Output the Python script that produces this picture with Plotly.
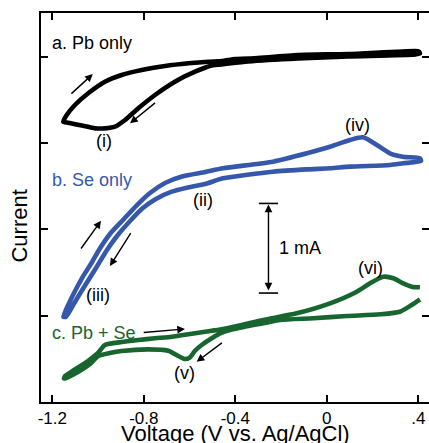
import plotly.graph_objects as go

# ---------------- data (Voltage in V vs Ag/AgCl, Current in arbitrary offset units, 1 mA ~ 1.04 units)
pb_v = [-1.152, -1.137, -1.101, -1.043, -0.970, -0.897, -0.809, -0.707, -0.605, -0.518, -0.458,
        -0.401, -0.344, -0.126, 0.093, 0.386, 0.403,
        0.407, 0.386, 0.093, -0.126, -0.344, -0.445, -0.503, -0.576, -0.664, -0.751, -0.824,
        -0.882, -0.926, -0.970, -1.013, -1.071, -1.130, -1.152]
pb_i = [3.247, 3.324, 3.440, 3.576, 3.710, 3.788, 3.846, 3.892, 3.923, 3.942, 3.950,
        3.973, 3.977, 4.019, 4.031, 4.066, 4.060,
        4.037, 4.025, 4.002, 3.979, 3.944, 3.915, 3.898, 3.826, 3.710, 3.556, 3.402,
        3.267, 3.189, 3.170, 3.170, 3.203, 3.235, 3.247]

se_v = [-1.152, -1.114, -1.070, -1.026, -0.996, -0.948, -0.891, -0.834, -0.773, -0.707, -0.633,
        -0.532, -0.454, -0.235, -0.087, 0.014, 0.101, 0.158, 0.219, 0.276, 0.333, 0.407, 0.412,
        0.333, 0.276, 0.101, 0.014, -0.087, -0.235, -0.454, -0.532, -0.607, -0.681, -0.747,
        -0.804, -0.856, -0.917, -0.961, -1.009, -1.053, -1.096, -1.140, -1.152]
se_i = [0.988, 1.216, 1.436, 1.622, 1.761, 1.946, 2.108, 2.270, 2.421, 2.537, 2.612,
        2.664, 2.707, 2.784, 2.881, 2.957, 3.035, 3.066, 2.977, 2.881, 2.841, 2.823, 2.792,
        2.765, 2.745, 2.726, 2.707, 2.695, 2.668, 2.591, 2.525, 2.485, 2.433, 2.351,
        2.247, 2.108, 1.923, 1.761, 1.552, 1.367, 1.182, 0.988, 0.988]

pbse_v = [0.407, 0.371, 0.320, 0.233, 0.087, -0.059, -0.205, -0.278, -0.423, -0.459, -0.503,
          -0.547, -0.576, -0.598, -0.620, -0.649, -0.693, -0.780, -0.897, -0.948, -0.999,
          -1.035, -1.088, -1.140, -1.149,
          -1.144, -1.101, -1.044, -1.000, -0.970, -0.897, -0.824, -0.751, -0.678, -0.605,
          -0.532, -0.459, -0.372, -0.278, -0.132, 0.014, 0.131, 0.189, 0.247, 0.291, 0.334,
          0.371, 0.407]
pbse_i = [1.190, 1.124, 1.046, 1.016, 0.996, 0.970, 0.950, 0.912, 0.834, 0.803, 0.738,
          0.660, 0.594, 0.518, 0.498, 0.533, 0.594, 0.610, 0.591, 0.568, 0.533,
          0.440, 0.348, 0.278, 0.272,
          0.301, 0.376, 0.475, 0.568, 0.660, 0.695, 0.718, 0.738, 0.756, 0.784,
          0.814, 0.842, 0.892, 0.950, 1.027, 1.143, 1.278, 1.375, 1.451, 1.433, 1.375,
          1.336, 1.329]

x_ticks = [-1.2, -0.8, -0.4, 0.0, 0.4]
x_tick_labels = ["-1.2", "-0.8", "-0.4", "0", ".4"]
y_ticks = [1, 2, 3, 4]
x_title = "Voltage (V vs. Ag/AgCl)"
y_title = "Current"

# scan-direction arrows: (tail V, tail I, head V, head I)
arrows_v_tail = [-1.123, -0.744, -1.079, -0.853, -0.807, -0.452]
arrows_i_tail = [3.556, 3.479, 1.761, 1.973, 0.803, 0.698]
arrows_v_head = [-1.023, -0.860, -0.987, -0.948, -0.620, -0.569]
arrows_i_head = [3.799, 3.228, 2.100, 1.575, 0.846, 0.467]

# peak labels
peak_labels = ["(i)", "(ii)", "(iii)", "(iv)", "(v)", "(vi)"]
peak_v = [-0.974, -0.541, -1.000, 0.136, -0.620, 0.189]
peak_i = [3.023, 2.340, 1.239, 3.209, 0.336, 1.552]

# series labels
series_names = ["a. Pb only", "b. Se only", "c. Pb + Se"]
series_label_i = [4.158, 2.572, 0.799]
series_colors = ["#000000", "#3658ab", "#17652f"]

# 1 mA scale bar
bar_v = -0.255
bar_i = [1.262, 2.300]
bar_cap_half = 0.042

FONT = "Liberation Sans, Arial, sans-serif"

fig = go.Figure()
for v, i, c in zip([pb_v, se_v, pbse_v], [pb_i, se_i, pbse_i], series_colors):
    fig.add_trace(go.Scatter(x=v, y=i, mode="lines",
                             line=dict(color=c, width=4.6, shape="spline", smoothing=0.6),
                             hoverinfo="skip", showlegend=False))
# dummy trace to activate the right-hand tick axis
fig.add_trace(go.Scatter(x=[None], y=[None], yaxis="y2", showlegend=False, hoverinfo="skip"))

ann = []
for tv, ti, hv, hi in zip(arrows_v_tail, arrows_i_tail, arrows_v_head, arrows_i_head):
    ann.append(dict(x=hv, y=hi, ax=tv, ay=ti, xref="x", yref="y", axref="x", ayref="y",
                    text="", showarrow=True, arrowhead=2, arrowsize=1.1, arrowwidth=1.4,
                    arrowcolor="black", standoff=0, startstandoff=0))
for t, v, i in zip(peak_labels, peak_v, peak_i):
    ann.append(dict(x=v, y=i, text=t, showarrow=False, xref="x", yref="y",
                    font=dict(family=FONT, size=18, color="black")))
for t, i, c in zip(series_names, series_label_i, series_colors):
    ann.append(dict(x=-1.2, y=i, text=t, showarrow=False, xref="x", yref="y",
                    xanchor="left", xshift=-2, font=dict(family=FONT, size=18, color=c)))
# scale bar
ann.append(dict(x=bar_v, y=bar_i[1], ax=bar_v, ay=bar_i[0], xref="x", yref="y",
                axref="x", ayref="y", text="", showarrow=True, arrowhead=2, arrowside="end+start",
                arrowsize=1.1, arrowwidth=1.4, arrowcolor="black", standoff=1, startstandoff=1))
ann.append(dict(x=bar_v, y=(bar_i[0] + bar_i[1]) / 2, text="1 mA", showarrow=False,
                xref="x", yref="y", xanchor="left", xshift=9,
                font=dict(family=FONT, size=18, color="black")))
# axis titles
ann.append(dict(x=0.5, y=0, xref="paper", yref="paper", text=x_title, showarrow=False,
                yanchor="middle", yshift=-31, font=dict(family=FONT, size=22, color="black")))
ann.append(dict(x=0, y=0.451, xref="paper", yref="paper", text=y_title, showarrow=False,
                textangle=-90, xanchor="center", xshift=-21,
                font=dict(family=FONT, size=22, color="black")))

shapes = []
for bi in bar_i:
    shapes.append(dict(type="line", xref="x", yref="y", x0=bar_v - bar_cap_half, x1=bar_v + bar_cap_half,
                       y0=bi, y1=bi, line=dict(color="black", width=1.6)))

fig.update_layout(
    width=429, height=443,
    margin=dict(l=41, r=0, t=13, b=41),
    paper_bgcolor="white", plot_bgcolor="white",
    annotations=ann, shapes=shapes,
    xaxis=dict(range=[-1.2494, 0.4468], tickvals=x_ticks, ticktext=x_tick_labels,
               ticks="inside", ticklen=7, tickwidth=1.6, tickcolor="black",
               showline=True, linewidth=2, linecolor="black", mirror="ticks",
               showgrid=False, zeroline=False, automargin=False,
               tickfont=dict(family=FONT, size=17, color="black")),
    yaxis=dict(range=[0, 4.506], tickvals=y_ticks, showticklabels=False,
               ticks="inside", ticklen=7, tickwidth=1.6, tickcolor="black",
               showline=True, linewidth=2, linecolor="black",
               showgrid=False, zeroline=False, automargin=False),
    yaxis2=dict(range=[0, 4.506], tickvals=y_ticks, showticklabels=False, overlaying="y",
                side="right", ticks="inside", ticklen=7, tickwidth=1.6, tickcolor="black",
                showline=False, showgrid=False, zeroline=False, automargin=False),
)

fig.write_html("out.html")
